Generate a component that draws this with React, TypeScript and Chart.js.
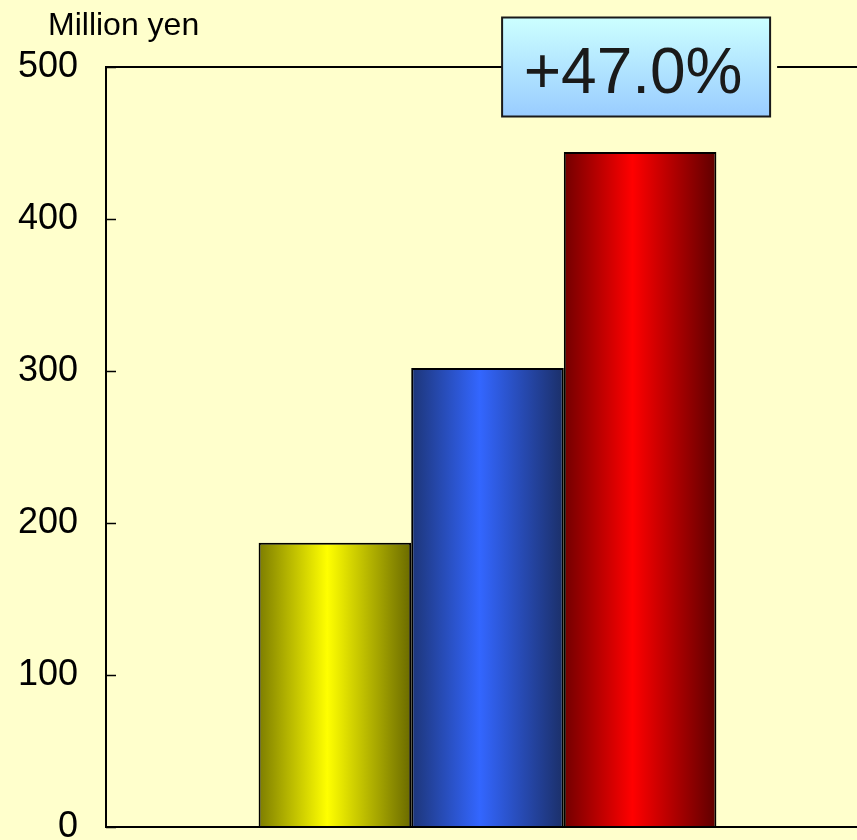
import { useEffect, useRef } from "react";
import { Chart, registerables } from "chart.js";

Chart.register(...registerables);

// Chart values
const categories = [""];
const seriesNames = ["Series A", "Series B", "Series C"];
const seriesValues = [187, 302, 444];
const yTicks = [0, 100, 200, 300, 400, 500];
const unitLabel = "Million yen";

// Edge / centre / edge shades for each bar's horizontal gradient
const barShades = [
  ["#7d7d00", "#ffff00", "#6a6a00"],
  ["#1d3577", "#3366ff", "#1b2f68"],
  ["#720000", "#ff0000", "#5e0000"],
];

const BG = "#ffffcc";
const FONT = "'Liberation Sans', Arial, sans-serif";

// Growth of the last series over the one before it
const growth = (seriesValues[2] / seriesValues[1] - 1) * 100;
const growthLabel = (growth >= 0 ? "+" : "") + growth.toFixed(1) + "%";

const decorations = {
  id: "decorations",
  beforeDraw(chart: any) {
    const { ctx, width, height } = chart;
    ctx.save();
    ctx.fillStyle = BG;
    ctx.fillRect(0, 0, width, height);
    ctx.restore();
  },
  beforeDatasetsDraw(chart: any) {
    const ctx = chart.ctx;
    chart.data.datasets.forEach((_ds: any, i: number) => {
      const meta = chart.getDatasetMeta(i);
      meta.data.forEach((el: any) => {
        const { x, width } = el.getProps(["x", "width"], true);
        const left = x - width / 2;
        const g = ctx.createLinearGradient(left, 0, left + width, 0);
        const [a, b, c] = barShades[i];
        g.addColorStop(0, a);
        g.addColorStop(0.45, b);
        g.addColorStop(1, c);
        el.options = { ...el.options, backgroundColor: g };
      });
    });
  },
  afterDatasetsDraw(chart: any) {
    const { ctx, chartArea } = chart;
    const { left, right, top, bottom } = chartArea;
    const yScale = chart.scales.y;

    ctx.save();
    // plot frame
    ctx.strokeStyle = "#000";
    ctx.lineWidth = 2;
    ctx.beginPath();
    ctx.moveTo(left, top);
    ctx.lineTo(right, top);
    ctx.lineTo(right, bottom);
    ctx.lineTo(left, bottom);
    ctx.closePath();
    ctx.stroke();

    // inward tick marks
    ctx.lineWidth = 1.5;
    yScale.ticks.forEach((t: any) => {
      const y = Math.round(yScale.getPixelForValue(t.value)) + 0.5;
      ctx.beginPath();
      ctx.moveTo(left, y);
      ctx.lineTo(left + 10, y);
      ctx.stroke();
    });

    // growth call-out box over the last bar
    const last = chart.getDatasetMeta(2).data[0];
    const bw = 268;
    const bh = 99;
    const cx = last.x - 4;
    const bx = cx - bw / 2;
    const by = top - bh / 2;

    ctx.fillStyle = BG;
    ctx.fillRect(bx + bw, top - 3, 7, 6);

    const g = ctx.createLinearGradient(0, by, 0, by + bh);
    g.addColorStop(0, "#ccffff");
    g.addColorStop(1, "#99ccff");
    ctx.fillStyle = g;
    ctx.fillRect(bx, by, bw, bh);
    ctx.strokeStyle = "#1a1a1a";
    ctx.lineWidth = 2;
    ctx.strokeRect(bx, by, bw, bh);

    ctx.fillStyle = "#1a1a1a";
    ctx.font = `64px ${FONT}`;
    ctx.textAlign = "center";
    ctx.textBaseline = "alphabetic";
    ctx.fillText(growthLabel, cx - 3, by + 75.5);

    // unit caption
    ctx.fillStyle = "#000";
    ctx.font = `32px ${FONT}`;
    ctx.textAlign = "left";
    ctx.fillText(unitLabel, 48, 35);
    ctx.restore();
  },
};

export default function App() {
  const canvasRef = useRef<HTMLCanvasElement | null>(null);

  useEffect(() => {
    document.body.style.margin = "0";
    document.body.style.background = BG;
    const canvas = canvasRef.current;
    if (!canvas) return;

    const chart = new Chart(canvas, {
      type: "bar",
      data: {
        labels: categories,
        datasets: seriesValues.map((v, i) => ({
          label: seriesNames[i],
          data: [v],
          backgroundColor: barShades[i][1],
          borderColor: "#000",
          borderWidth: 2,
          categoryPercentage: 0.6,
          barPercentage: 1,
        })),
      },
      options: {
        animation: false,
        responsive: false,
        maintainAspectRatio: false,
        devicePixelRatio: 1,
        layout: { padding: { top: 67, bottom: 13, left: 0, right: 1 } },
        plugins: {
          legend: { display: false },
          tooltip: { enabled: false },
        },
        scales: {
          x: { display: false },
          y: {
            min: yTicks[0],
            max: yTicks[yTicks.length - 1],
            afterFit: (scale: any) => {
              scale.width = 106;
              scale.paddingTop = 0;
              scale.paddingBottom = 0;
            },
            afterBuildTicks: (scale: any) => {
              scale.ticks = yTicks.map((v) => ({ value: v }));
            },
            grid: { display: false, drawTicks: false },
            border: { display: false },
            ticks: {
              color: "#000",
              padding: 28,
              font: { size: 36, family: FONT },
            },
          },
        },
      },
      plugins: [decorations],
    });

    return () => chart.destroy();
  }, []);

  return (
    <div style={{ width: 857, height: 840, overflow: "hidden", background: BG }}>
      <canvas ref={canvasRef} width={870} height={840} style={{ display: "block" }} />
    </div>
  );
}
